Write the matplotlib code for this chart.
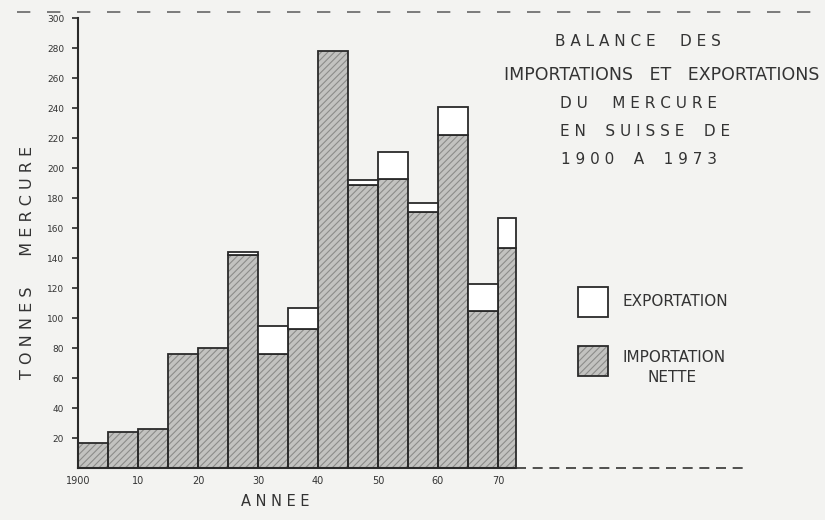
import numpy as np
import matplotlib
matplotlib.use("Agg")
import matplotlib.pyplot as plt
from matplotlib.lines import Line2D

# periodes de 5 ans (la derniere 1970-1973)
debut = [1900, 1905, 1910, 1915, 1920, 1925, 1930, 1935, 1940, 1945, 1950, 1955, 1960, 1965, 1970]
fin = [1905, 1910, 1915, 1920, 1925, 1930, 1935, 1940, 1945, 1950, 1955, 1960, 1965, 1970, 1973]
# tonnes de mercure
importation_nette = [17, 24, 26, 76, 80, 142, 76, 93, 278, 189, 193, 171, 222, 105, 147]
exportation = [0, 0, 0, 0, 0, 2, 19, 14, 0, 3, 18, 6, 19, 18, 20]

y_ticks = [20, 40, 60, 80, 100, 120, 140, 160, 180, 200, 220, 240, 260, 280, 300]
x_ticks = [1900, 1910, 1920, 1930, 1940, 1950, 1960, 1970]
x_labels = ["1900", "10", "20", "30", "40", "50", "60", "70"]

papier = "#f3f3f1"
gris = "#c2c2c0"
hach = "#8c8c8a"
encre = "#2a2a2a"

fig = plt.figure(figsize=(8.25, 5.2), dpi=100, facecolor=papier)
ax = fig.add_axes([78 / 825, 52 / 520, 667 / 825, 450 / 520])
ax.set_facecolor(papier)

d = np.array(debut)
w = np.array(fin) - d
imp = np.array(importation_nette)
exp_ = np.array(exportation)

plt.rcParams["hatch.linewidth"] = 0.8

# importation nette : gris hachure
ax.bar(d, imp, width=w, align="edge", color=gris, hatch="/////",
       edgecolor=hach, linewidth=0, zorder=2)
ax.bar(d, imp, width=w, align="edge", fill=False, edgecolor=encre,
       linewidth=1.3, zorder=3)
# exportation : blanc au-dessus
m = exp_ > 0
ax.bar(d[m], exp_[m], width=w[m], bottom=imp[m], align="edge",
       color="white", edgecolor=encre, linewidth=1.3, zorder=3)

ax.set_xlim(1900, 1900 + 667 / 6)
ax.set_ylim(0, 300)

for s in ["top", "right", "bottom"]:
    ax.spines[s].set_visible(False)
ax.spines["left"].set_linewidth(1.5)
ax.spines["left"].set_color(encre)

ax.plot([1900, 1973], [0, 0], color=encre, lw=1.5, zorder=4, clip_on=False)
ax.plot([1973, 1900 + 667 / 6], [0, 0], color="#333333", lw=1.2,
        linestyle=(0, (6, 4)), zorder=4, clip_on=False)

ax.set_yticks(y_ticks)
ax.set_yticklabels([str(v) for v in y_ticks], fontsize=6.5, color="#333333")
ax.tick_params(axis="y", direction="out", length=4, width=1.2, color=encre, pad=6)
ax.set_xticks(x_ticks)
ax.set_xticklabels(x_labels, fontsize=7, color="#333333")
ax.tick_params(axis="x", length=0, pad=6)

# ligne pointillee en haut de la page
fig.add_artist(Line2D([0.02, 0.99], [1 - 12 / 520, 1 - 12 / 520], color="#666666",
                      lw=1.2, linestyle=(0, (8, 10))))

# axes titles
fig.text(28 / 825, 1 - 262 / 520, "T O N N E S      M E R C U R E", rotation=90,
         ha="center", va="center", fontsize=11.5, color="#333333")
fig.text(275 / 825, 1 - 502 / 520, "A N N E E", ha="center", va="center",
         fontsize=10.5, color="#333333")

# titre
titre = ["B A L A N C E     D E S",
         "IMPORTATIONS   ET   EXPORTATIONS",
         "D U     M E R C U R E",
         "E N    S U I S S E    D E",
         "1 9 0 0    A    1 9 7 3"]
ty = [42, 75, 103, 131, 160]
tx = [638, 662, 638, 645, 639]
for t, xx, yy in zip(titre, tx, ty):
    fig.text(xx / 825, 1 - yy / 520, t, ha="center", va="center",
             fontsize=12.5 if yy == 75 else 11, color="#333333")

# legende
ax.bar([1983.3], [20], width=5, bottom=[101], align="edge", color="white",
       edgecolor=encre, linewidth=1.3, clip_on=False, zorder=3)
ax.bar([1983.3], [20], width=5, bottom=[61.5], align="edge", color=gris,
       hatch="/////", edgecolor=hach, linewidth=0, clip_on=False, zorder=2)
ax.bar([1983.3], [20], width=5, bottom=[61.5], align="edge", fill=False,
       edgecolor=encre, linewidth=1.3, clip_on=False, zorder=3)
fig.text(622 / 825, 1 - 301 / 520, "EXPORTATION", ha="left", va="center",
         fontsize=11, color="#333333")
fig.text(622 / 825, 1 - 357 / 520, "IMPORTATION", ha="left", va="center",
         fontsize=11, color="#333333")
fig.text(672 / 825, 1 - 378 / 520, "NETTE", ha="center", va="center",
         fontsize=11, color="#333333")

fig.savefig("out.png", dpi=100, facecolor=papier)
